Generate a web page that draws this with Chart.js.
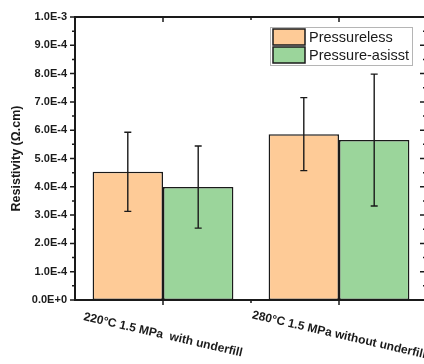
<!DOCTYPE html>
<html>
<head>
<meta charset="utf-8">
<script src="https://cdn.jsdelivr.net/npm/chart.js@4"></script>
<style>
  html, body { margin: 0; padding: 0; background: #fff; overflow: hidden; }
  #wrap { width: 440px; height: 364px; position: relative; }
</style>
</head>
<body>
<div id="wrap"><canvas id="resChart"></canvas></div>
<script>
// categories and values
var categories = ['220°C 1.5 MPa  with underfill', '280°C 1.5 MPa without underfill'];
var seriesNames = ['Pressureless', 'Pressure-asisst'];
var pressureless = [4.53e-4, 5.86e-4];
var pressurelessErr = [1.40e-4, 1.29e-4];
var pressureAssist = [3.99e-4, 5.65e-4];
var pressureAssistErr = [1.45e-4, 2.33e-4];
var yMin = 0, yMax = 1.0e-3, yStep = 1.0e-4;

var errors = [pressurelessErr, pressureAssistErr];
var FONT = '"Liberation Sans", Arial, sans-serif';
var INK = '#1a1a1a';

// error bars, frame + ticks, rotated category labels, legend
var extras = {
  id: 'extras',
  afterDatasetsDraw: function (chart) {
    var ctx = chart.ctx;
    var ys = chart.scales.y, xs = chart.scales.x;
    var a = chart.chartArea;

    // error bars
    ctx.save();
    ctx.strokeStyle = INK;
    ctx.lineWidth = 1.4;
    chart.data.datasets.forEach(function (ds, di) {
      var meta = chart.getDatasetMeta(di);
      meta.data.forEach(function (bar, i) {
        var v = ds.data[i], e = errors[di][i];
        var yt = ys.getPixelForValue(v + e), yb = ys.getPixelForValue(v - e);
        ctx.beginPath();
        ctx.moveTo(bar.x, yt); ctx.lineTo(bar.x, yb);
        ctx.moveTo(bar.x - 3.5, yt); ctx.lineTo(bar.x + 3.5, yt);
        ctx.moveTo(bar.x - 3.5, yb); ctx.lineTo(bar.x + 3.5, yb);
        ctx.stroke();
      });
    });

    // frame
    ctx.lineWidth = 2;
    ctx.strokeRect(a.left, a.top, a.right - a.left, a.bottom - a.top);

    // y ticks (major + minor), left outward, right inward
    ctx.lineWidth = 1.5;
    ys.ticks.forEach(function (t, i) {
      var y = ys.getPixelForValue(t.value);
      ctx.beginPath();
      ctx.moveTo(a.left - 5, y); ctx.lineTo(a.left, y);
      ctx.moveTo(a.right - 7, y); ctx.lineTo(a.right, y);
      ctx.stroke();
      if (i < ys.ticks.length - 1) {
        var ym = ys.getPixelForValue(t.value + yStep / 2);
        ctx.beginPath();
        ctx.moveTo(a.left - 3, ym); ctx.lineTo(a.left, ym);
        ctx.moveTo(a.right - 4, ym); ctx.lineTo(a.right, ym);
        ctx.stroke();
      }
    });

    // x ticks: major at category centres, minor at boundaries
    categories.forEach(function (c, i) {
      var x = xs.getPixelForValue(i);
      ctx.beginPath();
      ctx.moveTo(x, a.bottom); ctx.lineTo(x, a.bottom + 5);
      ctx.moveTo(x, a.top); ctx.lineTo(x, a.top + 5);
      ctx.stroke();
      if (i < categories.length - 1) {
        var xm = (x + xs.getPixelForValue(i + 1)) / 2;
        ctx.beginPath();
        ctx.moveTo(xm, a.bottom); ctx.lineTo(xm, a.bottom + 3);
        ctx.moveTo(xm, a.top); ctx.lineTo(xm, a.top + 3);
        ctx.stroke();
      }
    });

    // category labels, slanted downwards
    ctx.fillStyle = INK;
    ctx.font = 'bold 12px ' + FONT;
    ctx.textAlign = 'center';
    ctx.textBaseline = 'middle';
    categories.forEach(function (c, i) {
      var x = xs.getPixelForValue(i);
      ctx.save();
      ctx.translate(x, a.bottom + 35);
      ctx.rotate(13 * Math.PI / 180);
      ctx.fillText(c, 0, 0);
      ctx.restore();
    });

    // legend
    var lx = 270, ly = 27;
    ctx.fillStyle = '#fff';
    ctx.fillRect(lx, ly, 142, 38);
    ctx.strokeStyle = '#b5b5b5';
    ctx.lineWidth = 1;
    ctx.strokeRect(lx + 0.5, ly + 0.5, 142, 38);
    ctx.font = '14.5px ' + FONT;
    ctx.textAlign = 'left';
    chart.data.datasets.forEach(function (ds, di) {
      var sy = ly + 2 + di * 18;
      ctx.fillStyle = ds.backgroundColor;
      ctx.fillRect(lx + 3, sy, 32, 16);
      ctx.strokeStyle = INK;
      ctx.lineWidth = 1.5;
      ctx.strokeRect(lx + 3, sy, 32, 16);
      ctx.fillStyle = INK;
      ctx.fillText(ds.label, lx + 39, sy + 8.5);
    });
    ctx.restore();
  }
};

var ctx = document.getElementById('resChart').getContext('2d');
var resChart = new Chart(ctx, {
  type: 'bar',
  data: {
    labels: categories,
    datasets: [
      {
        label: seriesNames[0],
        data: pressureless,
        backgroundColor: '#FECB97',
        borderColor: INK,
        borderWidth: 1.5,
        borderSkipped: false,
      },
      {
        label: seriesNames[1],
        data: pressureAssist,
        backgroundColor: '#9BD59B',
        borderColor: INK,
        borderWidth: 1.5,
        borderSkipped: false,
      },
    ],
  },
  options: {
    responsive: true,
    maintainAspectRatio: false,
    animation: false,
    layout: { padding: { top: 17, right: 13, left: 0, bottom: 0 } },
    datasets: { bar: { categoryPercentage: 0.8, barPercentage: 1.0 } },
    plugins: { legend: { display: false }, tooltip: { enabled: false } },
    scales: {
      x: {
        ticks: { display: false },
        grid: { display: false, drawTicks: false },
        border: { display: false },
        afterFit: function (s) { s.height = 64; },
      },
      y: {
        min: yMin,
        max: yMax,
        ticks: {
          stepSize: yStep,
          padding: 8,
          color: INK,
          font: { family: FONT, size: 11, weight: 'bold' },
          callback: function (v) { return Number(v).toExponential(1).toUpperCase(); },
        },
        grid: { display: false, drawTicks: false },
        border: { display: false },
        title: {
          display: true,
          text: 'Resistivity (Ω.cm)',
          color: INK,
          font: { family: FONT, size: 12.5, weight: 'bold' },
          padding: { top: 9, bottom: 0 },
        },
        afterFit: function (s) { s.width = 75; },
      },
    },
  },
  plugins: [extras],
});
</script>
</body>
</html>
